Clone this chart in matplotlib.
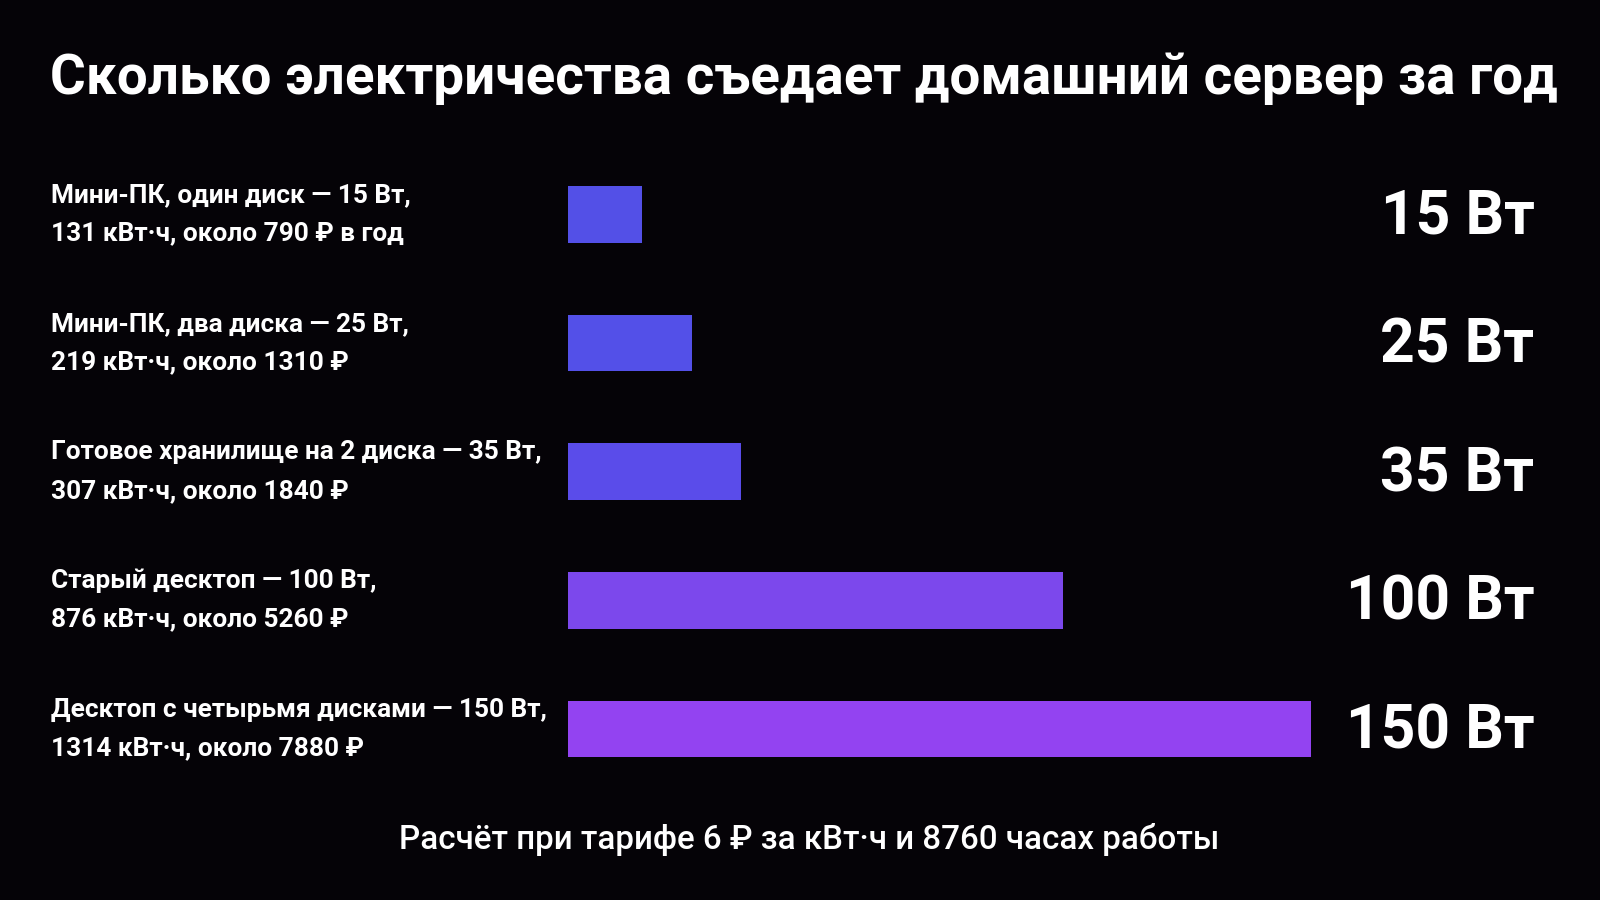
import matplotlib.pyplot as plt
from matplotlib import transforms

# chart data
labels = [
    "Мини-ПК, один диск — 15 Вт,\n131 кВт·ч, около 790 ₽ в год",
    "Мини-ПК, два диска — 25 Вт,\n219 кВт·ч, около 1310 ₽",
    "Готовое хранилище на 2 диска — 35 Вт,\n307 кВт·ч, около 1840 ₽",
    "Старый десктоп — 100 Вт,\n876 кВт·ч, около 5260 ₽",
    "Десктоп с четырьмя дисками — 150 Вт,\n1314 кВт·ч, около 7880 ₽",
]
watts = [15, 25, 35, 100, 150]
value_labels = ["15 Вт", "25 Вт", "35 Вт", "100 Вт", "150 Вт"]
bar_colors = ["#5350E7", "#5350E8", "#5A4CEA", "#7C48EC", "#9343F1"]

title = "Сколько электричества съедает домашний сервер за год"
footnote = "Расчёт при тарифе 6 ₽ за кВт·ч и 8760 часах работы"

bg = "#050307"
plt.rcParams["font.family"] = ["Roboto", "DejaVu Sans"]

fig = plt.figure(figsize=(16, 9), dpi=100, facecolor=bg)
ax = fig.add_axes([0.355, 0.0, 0.4645, 1.0])
ax.set_facecolor("none")

y = list(range(len(watts)))
ax.barh(y, watts, height=0.44, color=bar_colors)
ax.set_xlim(0, 150)
ax.set_ylim(5.33, -1.666)
ax.axis("off")

# labels on the left, values on the right
lab_tr = transforms.blended_transform_factory(fig.transFigure, ax.transData)
label_texts = []
value_texts = []
for i in y:
    label_texts.append(ax.text(0.032, i, labels[i], transform=lab_tr, ha="left",
                               va="center", color="white", fontsize=20,
                               fontweight="bold", linespacing=1.75))
    value_texts.append(ax.text(0.959, i + 0.02, value_labels[i], transform=lab_tr,
                               ha="right", va="center", color="white",
                               fontsize=40, fontweight="bold"))

title_text = fig.text(0.031, 0.912, title, ha="left", va="center", color="white",
                      fontsize=40, fontweight="bold")
foot_text = fig.text(0.506, 0.067, footnote, ha="center", va="center",
                     color="white", fontsize=20, fontweight="medium")


# scale font sizes so text widths match the reference (fractions of width)
def fit(texts, ref_idx, target):
    fig.canvas.draw()
    r = fig.canvas.get_renderer()
    w = texts[ref_idx].get_window_extent(r).width / fig.bbox.width
    size = texts[ref_idx].get_fontsize() * target / w
    for t in texts:
        t.set_fontsize(size)


fit([title_text], 0, 0.940)
fit(label_texts, 4, 0.31)
fit(value_texts, 3, 0.118)
fit([foot_text], 0, 0.513)

fig.savefig("out.png", dpi=100, facecolor=bg)
